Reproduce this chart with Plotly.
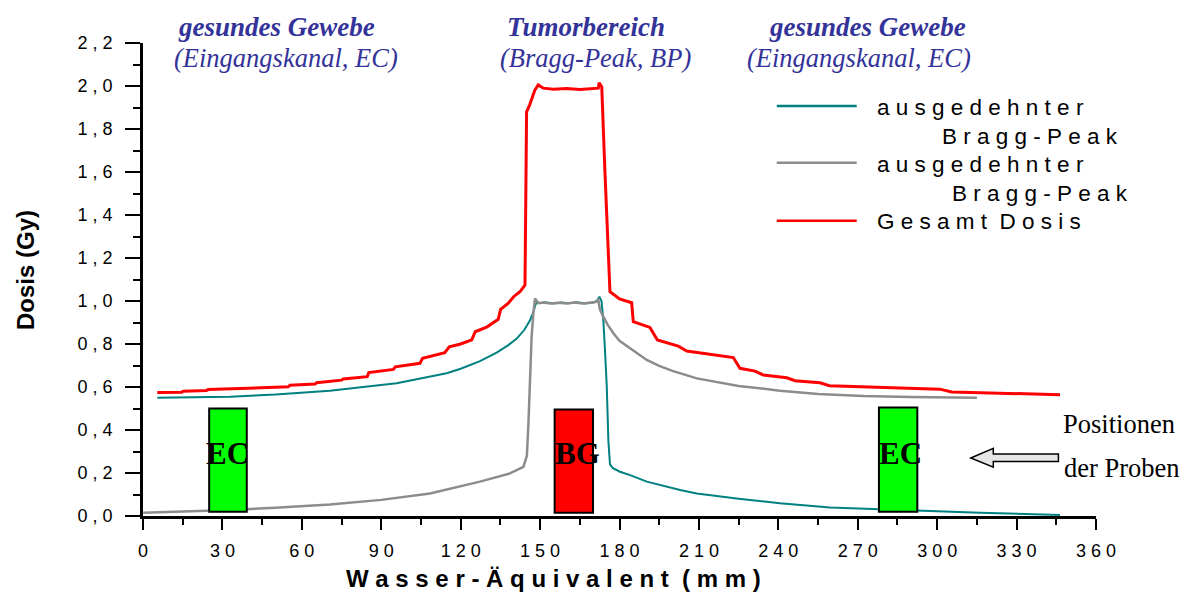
import plotly.graph_objects as go

# ---------------- data ----------------
series_names = ["ausgedehnter Bragg-Peak", "ausgedehnter Bragg-Peak", "Gesamt Dosis"]

teal_x = [5.4, 20, 32.9, 50, 70.6, 95.8, 114.7, 120, 127.3, 133.6, 138, 141.2, 144, 146.2, 147.5,
          148.3, 149, 150, 152, 155, 158, 161, 164, 167, 170, 171.5, 172.4, 173.2, 173.9, 174.6,
          175.2, 175.8, 176.4, 177.5, 180.2, 184, 190.3, 202.9, 209.2, 225, 240.6, 259.5, 275,
          291, 316.2, 346.4]
teal_y = [0.55, 0.552, 0.555, 0.565, 0.583, 0.617, 0.664, 0.685, 0.72, 0.76, 0.795, 0.825, 0.865,
          0.91, 0.95, 0.985, 0.995, 0.99, 0.994, 0.989, 0.993, 0.99, 0.994, 0.989, 0.993, 1.0,
          1.02, 1.0, 0.91, 0.75, 0.6, 0.35, 0.24, 0.222, 0.206, 0.19, 0.16, 0.121, 0.105, 0.08,
          0.059, 0.04, 0.033, 0.028, 0.015, 0.005]

gray_x = [0.1, 15, 32.9, 50, 70.6, 90, 108.4, 127.3, 138.6, 143.7, 145, 145.6, 146.2, 146.8,
          147.5, 148.1, 149.3, 151, 154, 157, 160, 163, 166, 169, 171, 172, 172.6, 173.9, 175.5,
          177.7, 180, 184, 190.3, 195, 200, 209.2, 225, 240.6, 255, 272.1, 290, 315]
gray_y = [0.015, 0.02, 0.028, 0.038, 0.054, 0.075, 0.105, 0.16, 0.198, 0.229, 0.28, 0.43, 0.65,
          0.834, 0.95, 1.012, 0.99, 0.993, 0.988, 0.992, 0.989, 0.993, 0.988, 0.992, 0.995, 1.005,
          0.96, 0.927, 0.89, 0.85, 0.815, 0.78, 0.726, 0.698, 0.675, 0.64, 0.605, 0.583, 0.568,
          0.558, 0.553, 0.55]

red_x = [5.4, 14.6, 15.2, 24, 24.6, 34, 45, 54.9, 55.5, 65, 65.6, 75, 75.6, 84.7, 85.3, 94.6,
         95.3, 104.6, 105.6, 114, 115.7, 120, 124.2, 125.5, 130, 134.2, 135.1, 138, 140, 142.5,
         144.3, 144.9, 146, 148, 149.3, 151.2, 155, 160, 165, 170, 172, 172.3, 173.3, 174.5,
         175.8, 176.4, 180, 184.6, 185.2, 191.5, 194.3, 202.2, 205.4, 215, 223, 225.5, 231.2,
         234.3, 243.2, 246.3, 255.7, 259.3, 280, 301, 305.5, 320, 346.4]
red_y = [0.574, 0.576, 0.58, 0.584, 0.588, 0.591, 0.596, 0.601, 0.608, 0.614, 0.62, 0.632, 0.637,
         0.648, 0.667, 0.682, 0.694, 0.71, 0.733, 0.76, 0.787, 0.8, 0.819, 0.857, 0.88, 0.915,
         0.961, 0.99, 1.02, 1.045, 1.074, 1.88, 1.91, 1.98, 2.005, 1.99, 1.985, 1.988, 1.984,
         1.987, 1.99, 2.015, 1.997, 1.6, 1.19, 1.043, 1.01, 0.992, 0.904, 0.877, 0.819, 0.79,
         0.767, 0.752, 0.737, 0.687, 0.674, 0.656, 0.643, 0.629, 0.62, 0.606, 0.598, 0.59,
         0.577, 0.572, 0.564]

# sample positions (boxes)
sample_labels = ["EC", "BG", "EC"]
sample_x0 = [25.0, 155.5, 278.0]
sample_x1 = [39.2, 170.0, 292.5]
sample_y0 = [0.02, 0.015, 0.02]
sample_y1 = [0.50, 0.495, 0.505]
sample_colors = ["#00ff00", "#ff0000", "#00ff00"]
sample_label_x = [32.1, 164.0, 286.3]

# tick labels
x_tickvals = [0, 30, 60, 90, 120, 150, 180, 210, 240, 270, 300, 330, 360]
x_ticktext = ["0", "3 0", "6 0", "9 0", "1 2 0", "1 5 0", "1 8 0", "2 1 0", "2 4 0",
              "2 7 0", "3 0 0", "3 3 0", "3 6 0"]
x_minor = [15, 45, 75, 105, 135, 165, 195, 225, 255, 285, 315, 345]
y_tickvals = [0, 0.2, 0.4, 0.6, 0.8, 1.0, 1.2, 1.4, 1.6, 1.8, 2.0, 2.2]
y_ticktext = ["0 , 0", "0 , 2", "0 , 4", "0 , 6", "0 , 8", "1 , 0", "1 , 2", "1 , 4",
              "1 , 6", "1 , 8", "2 , 0", "2 , 2"]
y_minor = [0.1, 0.3, 0.5, 0.7, 0.9, 1.1, 1.3, 1.5, 1.7, 1.9, 2.1]

NB = "\u00a0"


def spaced(s, gap=NB, word_gap=NB + NB):
    return word_gap.join(gap.join(list(w)) for w in s.split(" "))


def px_x(p):   # pixel column -> paper x
    return (p - 143) / 953


def px_y(p):   # pixel row -> paper y
    return (516 - p) / 473


SANS = "Liberation Sans"
SERIF = "Liberation Serif"
BLUE = "#333399"

fig = go.Figure()
fig.add_trace(go.Scatter(x=teal_x, y=teal_y, mode="lines", name=series_names[0],
                         line=dict(color="#008080", width=2)))
fig.add_trace(go.Scatter(x=gray_x, y=gray_y, mode="lines", name=series_names[1],
                         line=dict(color="#8c8c8c", width=2.5)))
fig.add_trace(go.Scatter(x=red_x, y=red_y, mode="lines", name=series_names[2],
                         line=dict(color="#ff0000", width=3)))

shapes = []
annotations = []

# sample boxes
for lab, x0, x1, y0, y1, c, lx in zip(sample_labels, sample_x0, sample_x1, sample_y0,
                                      sample_y1, sample_colors, sample_label_x):
    shapes.append(dict(type="rect", xref="x", yref="y", x0=x0, x1=x1, y0=y0, y1=y1,
                       fillcolor=c, line=dict(color="black", width=2), layer="above"))
    annotations.append(dict(x=lx, y=0.291, xref="x", yref="y", text="<b>%s</b>" % lab,
                            showarrow=False, font=dict(family=SERIF, size=31, color="black"),
                            xanchor="center", yanchor="middle"))

# legend (drawn manually to match long line samples)
leg_colors = ["#008080", "#8c8c8c", "#ff0000"]
leg_line_y = [1.907, 1.643, 1.373]
for c, ly in zip(leg_colors, leg_line_y):
    shapes.append(dict(type="line", xref="x", yref="y", x0=239.4, x1=269.6, y0=ly, y1=ly,
                       line=dict(color=c, width=2.5)))
leg_texts = [
    (spaced("ausgedehnter"), 276.5, 1.899),
    (spaced("Bragg-Peak"), 301.1, 1.764),
    (spaced("ausgedehnter"), 276.5, 1.637),
    (spaced("Bragg-Peak"), 304.9, 1.500),
    (spaced("Gesamt Dosis"), 276.5, 1.369),
]
for t, tx, ty in leg_texts:
    annotations.append(dict(x=tx, y=ty, xref="x", yref="y", text=t, showarrow=False,
                            xanchor="left", yanchor="middle",
                            font=dict(family=SANS, size=22.5, color="black")))

# region headings
heads = [
    ("<b><i>gesundes Gewebe</i></b>", 50.4, 27.5, 27),
    ("<i>(Eingangskanal, EC)</i>", 54.2, 57.5, 26.5),
    ("<b><i>Tumorbereich</i></b>", 167.2, 27.5, 27),
    ("<i>(Bragg-Peak, BP)</i>", 171.1, 57.5, 26.5),
    ("<b><i>gesundes Gewebe</i></b>", 273.7, 27.5, 27),
    ("<i>(Eingangskanal, EC)</i>", 270.5, 57.5, 26.5),
]
for t, tx, py, fs in heads:
    annotations.append(dict(x=tx, y=px_y(py), xref="x", yref="paper", text=t, showarrow=False,
                            xanchor="center", yanchor="middle",
                            font=dict(family=SERIF, size=fs, color=BLUE)))

# arrow + label
shapes.append(dict(type="path", xref="x", yref="y",
                   path="M312.7,0.27 L321.2,0.315 L321.2,0.288 L345.8,0.288 L345.8,0.253 "
                        "L321.2,0.253 L321.2,0.227 Z",
                   fillcolor="#e6e6e6", line=dict(color="black", width=1.5), layer="above"))
annotations.append(dict(x=px_x(1119), y=px_y(424), xref="paper", yref="paper", text="Positionen",
                        showarrow=False, xanchor="center", yanchor="middle",
                        font=dict(family=SERIF, size=26.5, color="black")))
annotations.append(dict(x=px_x(1121.7), y=px_y(467.5), xref="paper", yref="paper",
                        text="der Proben", showarrow=False, xanchor="center", yanchor="middle",
                        font=dict(family=SERIF, size=26.5, color="black")))

# axis titles (placed where the original has them)
annotations.append(dict(x=px_x(553.5), y=px_y(578), xref="paper", yref="paper",
                        text="<b>" + spaced("Wasser-Äquivalent (mm)") + "</b>",
                        showarrow=False, xanchor="center", yanchor="middle",
                        font=dict(family=SANS, size=24, color="black")))
annotations.append(dict(x=px_x(25), y=px_y(270), xref="paper", yref="paper",
                        text="<b>Dosis (Gy)</b>", textangle=-90,
                        showarrow=False, xanchor="center", yanchor="middle",
                        font=dict(family=SANS, size=24, color="black")))

fig.update_layout(
    width=1183, height=592,
    margin=dict(l=143, r=87, t=43, b=76),
    plot_bgcolor="white", paper_bgcolor="white",
    showlegend=False,
    font=dict(family=SANS, color="black"),
    shapes=shapes, annotations=annotations,
    xaxis=dict(range=[0, 360], tickvals=x_tickvals, ticktext=x_ticktext, ticks="outside",
               ticklen=11, tickwidth=2, tickcolor="black", showline=True, linecolor="black",
               linewidth=2.5, showgrid=False, zeroline=False, ticklabelstandoff=6,
               tickfont=dict(family=SANS, size=18, color="black"),
               minor=dict(tickvals=x_minor, ticks="outside", ticklen=6, tickwidth=2,
                          tickcolor="black", showgrid=False)),
    yaxis=dict(range=[0, 2.2], tickvals=y_tickvals, ticktext=y_ticktext, ticks="outside",
               ticklen=15, tickwidth=2, tickcolor="black", showline=True, linecolor="black",
               linewidth=2.5, showgrid=False, zeroline=False, ticklabelstandoff=9,
               tickfont=dict(family=SANS, size=18, color="black"),
               minor=dict(tickvals=y_minor, ticks="outside", ticklen=7, tickwidth=2,
                          tickcolor="black", showgrid=False)),
)

fig.write_html("out.html", config={"displayModeBar": False},
               post_script="document.body.style.margin='0';document.body.style.overflow='hidden';")
